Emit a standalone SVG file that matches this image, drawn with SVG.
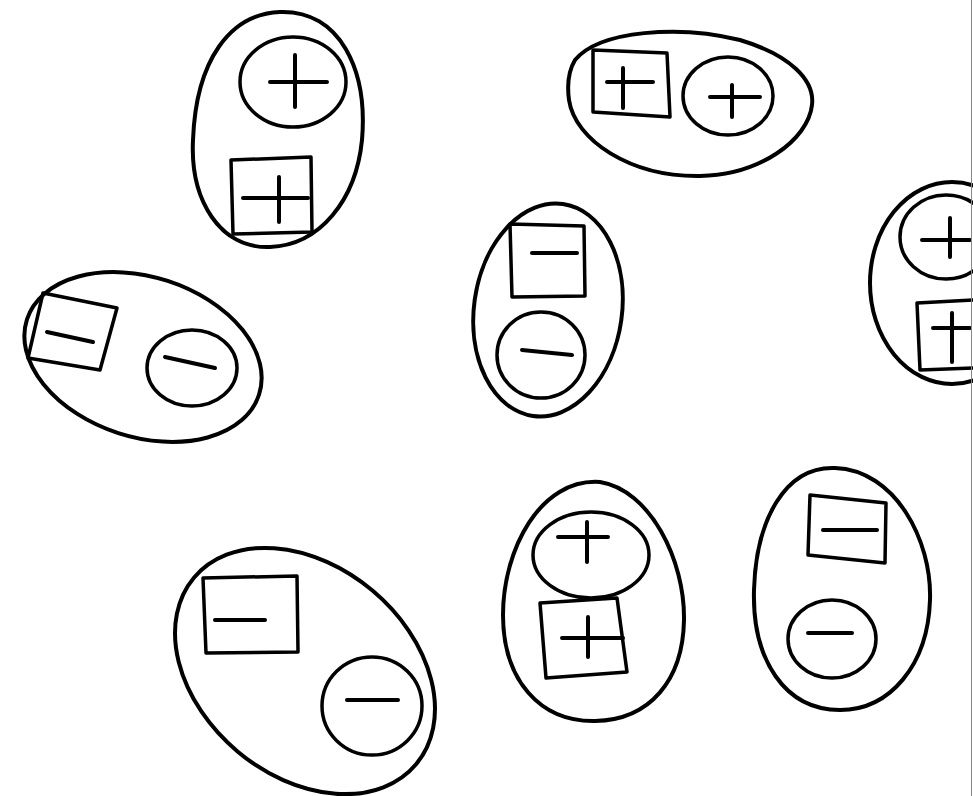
<svg xmlns="http://www.w3.org/2000/svg" width="973" height="796" viewBox="0 0 973 796">
<style>
.o{fill:none;stroke:#000;stroke-width:4;stroke-linecap:round;stroke-linejoin:round}
.i{fill:none;stroke:#000;stroke-width:3.5;stroke-linecap:round;stroke-linejoin:round}
.s{fill:none;stroke:#000;stroke-width:4;stroke-linecap:round}
</style>
<rect width="973" height="796" fill="#fff"/>
<g id="pair1">
<path class="o" d="M280,12 C340,10 368,70 362,140 C356,200 320,245 270,247 C220,249 190,200 193,140 C196,60 230,14 280,12 Z"/>
<ellipse class="i" cx="293" cy="82" rx="53" ry="45"/>
<path class="s" d="M270,82 H327 M295,55 V107"/>
<polygon class="i" points="231,160 311,157 312,232 233,234"/>
<path class="s" d="M243,198 H308 M279,177 V222"/>
</g>
<g id="pair2">
<path class="o" d="M575,60 C600,30 680,25 740,40 C790,55 815,80 812,105 C808,140 760,175 700,176 C630,177 575,140 569,100 C567,85 569,70 575,60 Z"/>
<polygon class="i" points="593,50 667,53 670,117 593,112"/>
<path class="s" d="M607,82 H653 M623,68 V108"/>
<ellipse class="i" cx="728" cy="96" rx="45" ry="39"/>
<path class="s" d="M710,97 H760 M732,85 V117"/>
</g>
<g id="pair3">
<ellipse class="o" cx="548" cy="310" rx="74" ry="107" transform="rotate(8 548 310)"/>
<polygon class="i" points="510,224 584,226 585,296 512,297"/>
<path class="s" d="M532,253 H577"/>
<ellipse class="i" cx="541" cy="355" rx="44" ry="43"/>
<path class="s" d="M522,350 L572,355"/>
</g>
<g id="pair4">
<ellipse class="o" cx="952" cy="283" rx="82" ry="101"/>
<ellipse class="i" cx="946" cy="237" rx="46" ry="42"/>
<path class="s" d="M922,240 H970 M950,218 V257"/>
<polygon class="i" points="917,303 975,300 975,368 920,370"/>
<path class="s" d="M933,328 H970 M952,313 V362"/>
</g>
<g id="pair5">
<ellipse class="o" cx="143" cy="357" rx="122" ry="80" transform="rotate(18 143 357)"/>
<polygon class="i" points="43,293 117,308 100,370 28,358"/>
<path class="s" d="M47,332 L93,342"/>
<ellipse class="i" cx="192" cy="368" rx="45" ry="38"/>
<path class="s" d="M165,357 L215,368"/>
</g>
<g id="pair6">
<ellipse class="o" cx="305" cy="671" rx="145" ry="105" transform="rotate(40 305 671)"/>
<polygon class="i" points="203,578 297,576 298,652 206,653"/>
<path class="s" d="M215,620 H265"/>
<ellipse class="i" cx="372" cy="706" rx="50" ry="49"/>
<path class="s" d="M347,700 H398"/>
</g>
<g id="pair7">
<path class="o" d="M600,482 C650,490 685,560 684,620 C683,680 650,720 595,721 C540,722 503,680 503,615 C503,550 540,478 600,482 Z"/>
<ellipse class="i" cx="591" cy="555" rx="58" ry="43"/>
<path class="s" d="M558,537 H608 M587,522 V562"/>
<polygon class="i" points="540,603 617,598 627,672 546,678"/>
<path class="s" d="M562,638 H623 M588,617 V657"/>
</g>
<g id="pair8">
<path class="o" d="M835,468 C895,470 932,540 930,600 C928,665 890,710 840,710 C785,710 752,660 754,590 C756,520 785,466 835,468 Z"/>
<polygon class="i" points="810,495 886,503 885,563 808,555"/>
<path class="s" d="M823,530 H877"/>
<ellipse class="i" cx="832" cy="639" rx="44" ry="39"/>
<path class="s" d="M808,633 H852"/>
</g>
<line x1="971.5" y1="0" x2="971.5" y2="796" stroke="#888" stroke-width="1"/>
</svg>
